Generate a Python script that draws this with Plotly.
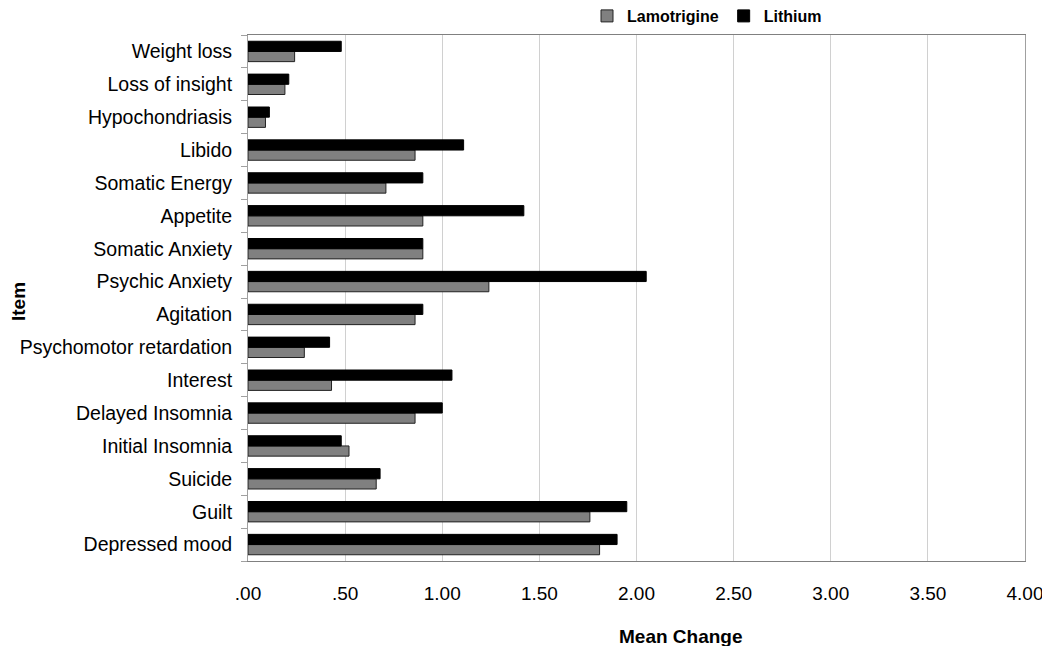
import plotly.graph_objects as go

items = ["Depressed mood", "Guilt", "Suicide", "Initial Insomnia", "Delayed Insomnia",
         "Interest", "Psychomotor retardation", "Agitation", "Psychic Anxiety",
         "Somatic Anxiety", "Appetite", "Somatic Energy", "Libido", "Hypochondriasis",
         "Loss of insight", "Weight loss"]
lamotrigine = [1.81, 1.76, 0.66, 0.52, 0.86, 0.43, 0.29, 0.86, 1.24,
               0.90, 0.90, 0.71, 0.86, 0.09, 0.19, 0.24]
lithium = [1.90, 1.95, 0.68, 0.48, 1.00, 1.05, 0.42, 0.90, 2.05,
           0.90, 1.42, 0.90, 1.11, 0.11, 0.21, 0.48]
x_tickvals = [0, 0.5, 1, 1.5, 2, 2.5, 3, 3.5, 4]
x_ticktext = [".00", ".50", "1.00", "1.50", "2.00", "2.50", "3.00", "3.50", "4.00"]

FONT = "Liberation Sans, Arial, sans-serif"
OFF = 8  # default body margin of the html page
W, H = 1050 - OFF, 654 - 2 * OFF
L, T = 248 - OFF, 35 - OFF
R = 1050 - 1025
B = H - (561 - OFF)
pw, ph = W - L - R, H - T - B


def px_x(page_x):
    return (page_x - OFF - L) / pw


def px_y(page_y):
    return 1 - (page_y - OFF - T) / ph


fig = go.Figure()
fig.add_trace(go.Bar(y=items, x=lamotrigine, orientation="h", name="Lamotrigine",
                     marker=dict(color="#808080", line=dict(color="#222222", width=1))))
fig.add_trace(go.Bar(y=items, x=lithium, orientation="h", name="Lithium",
                     marker=dict(color="#000000", line=dict(color="#000000", width=1))))

fig.update_layout(
    width=W, height=H,
    margin=dict(l=L, r=R, t=T, b=B, autoexpand=False),
    paper_bgcolor="white", plot_bgcolor="white",
    barmode="group", bargap=0.38, bargroupgap=0,
    font=dict(family=FONT, color="black"),
    legend=dict(orientation="h", x=px_x(587), xanchor="left",
                y=px_y(16), yanchor="middle",
                font=dict(family=FONT, size=16, color="black", weight="bold"),
                traceorder="normal", itemwidth=30, bgcolor="rgba(0,0,0,0)"),
    xaxis=dict(range=[0, 4], tickvals=x_tickvals, ticktext=x_ticktext,
               showgrid=True, gridcolor="#d0d0d0", gridwidth=1,
               showline=True, linecolor="#808080", linewidth=1, mirror=True,
               ticks="", zeroline=False,
               tickfont=dict(family=FONT, size=19, color="black"),
               ticklabelstandoff=15),
    yaxis=dict(showline=True, linecolor="#a0a0a0", linewidth=1, mirror=True,
               ticks="outside", tickson="boundaries", ticklen=6, tickcolor="#a0a0a0",
               showgrid=False,
               tickfont=dict(family=FONT, size=19.5, color="black"),
               ticklabelstandoff=11),
    annotations=[
        dict(text="<b>Mean Change</b>", xref="paper", yref="paper",
             x=px_x(681), y=px_y(636), xanchor="center", yanchor="middle",
             showarrow=False, font=dict(family=FONT, size=19, color="black")),
        dict(text="<b>Item</b>", xref="paper", yref="paper",
             x=px_x(18), y=px_y(302), xanchor="center", yanchor="middle",
             textangle=-90, showarrow=False, font=dict(family=FONT, size=19, color="black")),
    ],
)

fig.write_html("out.html")
